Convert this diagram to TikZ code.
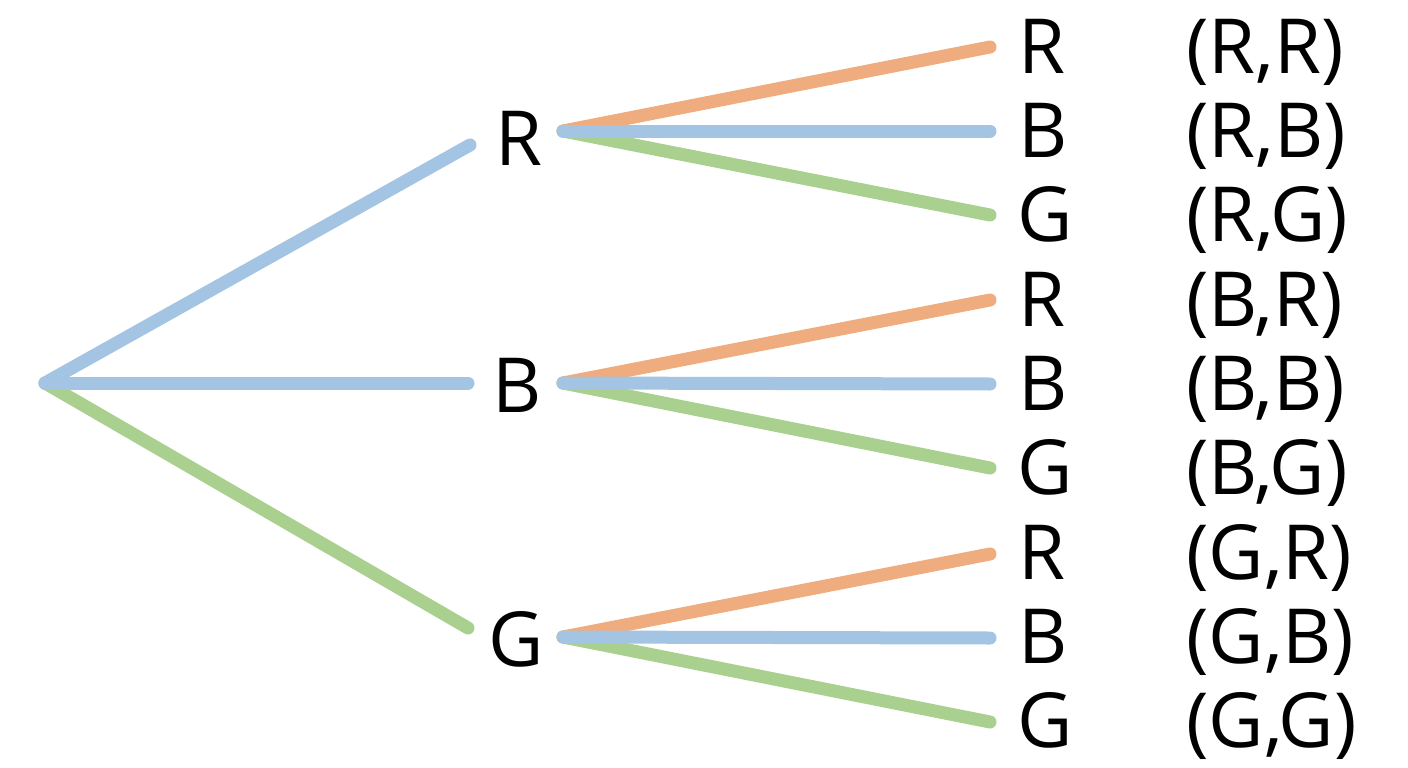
\documentclass[tikz,border=0pt]{standalone}
\usepackage{fontspec}
\setmainfont{Open Sans}
\definecolor{lineR}{HTML}{EFAC7E}
\definecolor{lineB}{HTML}{A3C4E2}
\definecolor{lineG}{HTML}{A9D08E}
\tikzset{
  branch/.style={line width=13pt, line cap=round},
  lbl/.style={inner sep=0pt, anchor=base, font=\fontsize{76}{90}\selectfont},
  leaf/.style={inner sep=0pt, anchor=base west, font=\fontsize{76}{90}\selectfont}
}
\begin{document}
\begin{tikzpicture}[x=1pt, y=-1pt]
        \useasboundingbox (0, 0) rectangle (1408, 768);
        % first draw
        \coordinate (root) at (45, 383);
        \coordinate (r-in) at (470, 145);
        \coordinate (b-in) at (468, 383);
        \coordinate (g-in) at (468, 628);
        \node[lbl] (r) at (519, 165) {R};
        \node[lbl] (b) at (517, 412) {B};
        \node[lbl] (g) at (516, 666) {G};
        \draw[branch, lineG] (root) -- (g-in);
        \draw[branch, lineB] (root) -- (r-in);
        \draw[branch, lineB] (root) -- (b-in);
        % second draw
        \coordinate (r-out) at (563, 131);
        \coordinate (b-out) at (563, 383);
        \coordinate (g-out) at (563, 637);
        \foreach \o/\y in {r/0, b/253, g/507} {
            \coordinate (\o r-end) at (990, 47+\y);
            \coordinate (\o b-end) at (990, 131+\y);
            \coordinate (\o g-end) at (990, 215+\y);
            \draw[branch, lineR] (\o-out) -- (\o r-end);
            \draw[branch, lineG] (\o-out) -- (\o g-end);
            \draw[branch, lineB] (\o-out) -- (\o b-end);
        }
        % outcomes
        \node[leaf] (rr) at (1018, 74) {R};
        \node[leaf] (rb) at (1018, 157) {B};
        \node[leaf] (rg) at (1017, 241) {G};
        \node[leaf] (br) at (1018, 326) {R};
        \node[leaf] (bb) at (1018, 410) {B};
        \node[leaf] (bg) at (1017, 494) {G};
        \node[leaf] (gr) at (1018, 579) {R};
        \node[leaf] (gb) at (1018, 663) {B};
        \node[leaf] (gg) at (1017, 747) {G};
        \node[leaf] (rr-pair) at (1186, 74) {(R,R)};
        \node[leaf] (rb-pair) at (1186, 157) {(R,B)};
        \node[leaf] (rg-pair) at (1186, 241) {(R,G)};
        \node[leaf] (br-pair) at (1186, 326) {(B,R)};
        \node[leaf] (bb-pair) at (1186, 410) {(B,B)};
        \node[leaf] (bg-pair) at (1186, 494) {(B,G)};
        \node[leaf] (gr-pair) at (1186, 579) {(G,R)};
        \node[leaf] (gb-pair) at (1186, 663) {(G,B)};
        \node[leaf] (gg-pair) at (1186, 747) {(G,G)};
\end{tikzpicture}
\end{document}
